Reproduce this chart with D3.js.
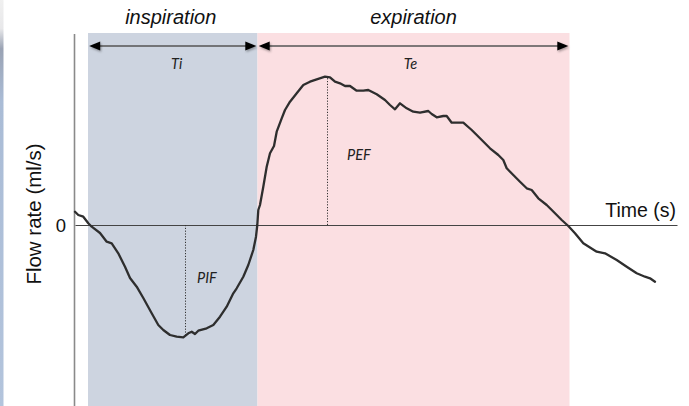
<!DOCTYPE html>
<html>
<head>
<meta charset="utf-8">
<script src="https://cdn.jsdelivr.net/npm/d3@7"></script>
<style>
  html, body { margin: 0; padding: 0; background: #fff; }
  svg { display: block; }
</style>
</head>
<body>
<svg id="chart" width="689" height="406"></svg>
<script>
// ---- data ----
const timeS = [0, .033, .083, .133, .167, .25, .317, .367, .433, .5, .55, .617, .683, .767, .833, .883, .95,
  1.017, 1.083, 1.133, 1.167, 1.2, 1.233, 1.317, 1.383, 1.45, 1.517, 1.583, 1.617, 1.683, 1.733, 1.783, 1.81,
  1.823, 1.833, 1.85, 1.883, 1.917, 1.95, 1.99, 2.017, 2.067, 2.1, 2.15, 2.217, 2.283, 2.35, 2.417, 2.5, 2.55,
  2.6, 2.65, 2.7, 2.75, 2.817, 2.883, 2.933, 3.017, 3.1, 3.15, 3.2, 3.25, 3.317, 3.383, 3.45, 3.533, 3.567,
  3.617, 3.683, 3.717, 3.767, 3.883, 3.967, 4.05, 4.15, 4.233, 4.283, 4.317, 4.383, 4.45, 4.517, 4.567, 4.633,
  4.717, 4.8, 4.867, 4.933, 5.0, 5.083, 5.217, 5.3, 5.417, 5.517, 5.617, 5.7, 5.75, 5.8];
const flowMlS = [13.3, 10, 8.3, 1.7, -1.7, -8, -16.7, -18.3, -28.3, -41.7, -53, -61.7, -73, -88.3, -100, -105, -110,
  -111.7, -112.3, -108.3, -106.7, -109, -105.7, -103.3, -100, -91.7, -81.7, -68.3, -63.3, -51.7, -40, -25, -11.7,
  0, 15, 20, 38.3, 58.3, 71.7, 79, 93.3, 106.7, 115, 123.3, 131.7, 140, 143.3, 145.7, 148.3, 147.7,
  143.3, 141.7, 139, 139, 134.3, 134.3, 135, 130.7, 125, 120, 115.7, 121.7, 116.7, 113.3, 112.3, 114, 111,
  107.7, 109, 109, 102.3, 102.3, 95, 86.7, 76.7, 70, 65, 56.7, 50, 43.3, 36.7, 35, 26.7,
  20, 11.7, 5, -1, -8.3, -18.3, -26.7, -28.3, -35, -41.7, -48.3, -51.7, -53.3, -56.7];

const phaseNames = ["inspiration", "expiration"];
const phaseStart = [0.13, 1.825];
const phaseEnd = [1.825, 4.945];
const phaseDuration = ["Ti", "Te"];
const phaseColors = ["#cdd4e0", "#fbdfe2"];

const peakNames = ["PIF", "PEF"];
const peakTime = [1.105, 2.525];
const peakFlow = [-112, 148];

const xTitle = "Time (s)";
const yTitle = "Flow rate (ml/s)";
const yTicks = [0];

// ---- layout ----
const svg = d3.select("#chart");
const x = d3.scaleLinear().domain([0, 6.02]).range([75, 677]);
const y = d3.scaleLinear().domain([-181, 192]).range([406, 33]);

// left-edge strip (artifact in the reference)
const defs = svg.append("defs");
const grad = defs.append("linearGradient").attr("id", "edge").attr("x1", 0).attr("x2", 0).attr("y1", 0).attr("y2", 1);
grad.append("stop").attr("offset", "0%").attr("stop-color", "#f0f0f0");
grad.append("stop").attr("offset", "7%").attr("stop-color", "#e8e8ea");
grad.append("stop").attr("offset", "12%").attr("stop-color", "#9aa3b4");
grad.append("stop").attr("offset", "25%").attr("stop-color", "#aabcd6");
grad.append("stop").attr("offset", "100%").attr("stop-color", "#b3c4dc");
svg.append("rect").attr("x", 0).attr("y", 0).attr("width", 3.5).attr("height", 406).attr("fill", "url(#edge)");

const shadow = defs.append("filter").attr("id", "shadow").attr("x", "-50%").attr("y", "-50%").attr("width", "200%").attr("height", "200%");
shadow.append("feDropShadow").attr("dx", 1).attr("dy", 1.5).attr("stdDeviation", 1.2).attr("flood-color", "#000").attr("flood-opacity", 0.35);

// phase backgrounds
svg.selectAll("rect.phase").data(phaseNames).join("rect")
  .attr("class", "phase")
  .attr("x", (d, i) => x(phaseStart[i]))
  .attr("width", (d, i) => x(phaseEnd[i]) - x(phaseStart[i]))
  .attr("y", y.range()[1])
  .attr("height", y.range()[0] - y.range()[1])
  .attr("fill", (d, i) => phaseColors[i]);

// phase titles
svg.selectAll("text.phaseTitle").data(phaseNames).join("text")
  .attr("class", "phaseTitle")
  .attr("x", (d, i) => (x(phaseStart[i]) + x(phaseEnd[i])) / 2 + (i === 0 ? -2 : 0))
  .attr("y", 24)
  .attr("text-anchor", "middle")
  .attr("font-family", "Liberation Sans, Arial, sans-serif")
  .attr("font-style", "italic")
  .attr("font-size", 20)
  .attr("fill", "#111")
  .text(d => d);

// duration arrows
const arrowY = 46;
const gap = 1.2;
phaseNames.forEach((d, i) => {
  const x0 = x(phaseStart[i]) + gap, x1 = x(phaseEnd[i]) - gap;
  svg.append("line").attr("x1", x0 + 4).attr("x2", x1 - 4).attr("y1", arrowY).attr("y2", arrowY)
    .attr("stroke", "#555").attr("stroke-width", 1.3);
  const head = (tip, dir) => `M${tip},${arrowY} L${tip + dir * 11},${arrowY - 4.5} L${tip + dir * 11},${arrowY + 4.5} Z`;
  svg.append("path").attr("d", head(x0, 1)).attr("fill", "#000").attr("filter", "url(#shadow)");
  svg.append("path").attr("d", head(x1, -1)).attr("fill", "#000").attr("filter", "url(#shadow)");
  svg.append("text")
    .attr("x", (x(phaseStart[i]) + x(phaseEnd[i])) / 2 + (i === 0 ? 4 : -3))
    .attr("y", 69)
    .attr("text-anchor", "middle")
    .attr("font-family", "Lato, sans-serif")
    .attr("font-style", "italic")
    .attr("font-size", 14.5)
    .attr("fill", "#222")
    .text(phaseDuration[i]);
});

// y axis line
svg.append("line").attr("x1", 74.5).attr("x2", 74.5).attr("y1", 34).attr("y2", 406)
  .attr("stroke", "#8a8a8a").attr("stroke-width", 1.6);

// zero line (x axis)
const xAxis = d3.axisBottom(x).tickValues([]).tickSize(0).tickSizeOuter(0);
const gx = svg.append("g").attr("transform", `translate(0,${y(0)})`).call(xAxis);
gx.select(".domain").attr("stroke", "#444").attr("stroke-width", 1.1);

// y tick label
const yAxis = d3.axisLeft(y).tickValues(yTicks).tickSize(0).tickFormat(d3.format("d"));
const gy = svg.append("g").attr("transform", `translate(${x(0) - 6},0)`).call(yAxis);
gy.select(".domain").remove();
gy.selectAll("text").attr("font-family", "Liberation Sans, Arial, sans-serif").attr("font-size", 18.5).attr("fill", "#111").attr("dy", "0.36em");

// axis titles
svg.append("text").attr("x", 676).attr("y", 217).attr("text-anchor", "end")
  .attr("font-family", "Liberation Sans, Arial, sans-serif").attr("font-size", 19.5).attr("fill", "#111").text(xTitle);
svg.append("text").attr("transform", "translate(41,214) rotate(-90)").attr("text-anchor", "middle")
  .attr("font-family", "Liberation Sans, Arial, sans-serif").attr("font-size", 20.5).attr("fill", "#111").text(yTitle);

// peak dotted lines + labels
peakNames.forEach((d, i) => {
  svg.append("line").attr("x1", x(peakTime[i])).attr("x2", x(peakTime[i]))
    .attr("y1", y(0)).attr("y2", y(peakFlow[i]))
    .attr("stroke", "#333").attr("stroke-width", 1).attr("stroke-dasharray", "1.2,1.6");
  svg.append("text")
    .attr("x", x(peakTime[i]) + (i === 0 ? 11.5 : 19.5))
    .attr("y", i === 0 ? 282.5 : 160)
    .attr("font-family", "Lato, sans-serif").attr("font-style", "italic").attr("font-size", 14.5)
    .attr("fill", "#222").text(d);
});

// flow curve
const line = d3.line().x(d => x(d[0])).y(d => y(d[1])).curve(d3.curveLinear);
svg.append("path").datum(timeS.map((t, i) => [t, flowMlS[i]]))
  .attr("d", line).attr("fill", "none").attr("stroke", "#2e2e2e").attr("stroke-width", 2.3)
  .attr("stroke-linejoin", "round").attr("stroke-linecap", "round");
</script>
</body>
</html>
